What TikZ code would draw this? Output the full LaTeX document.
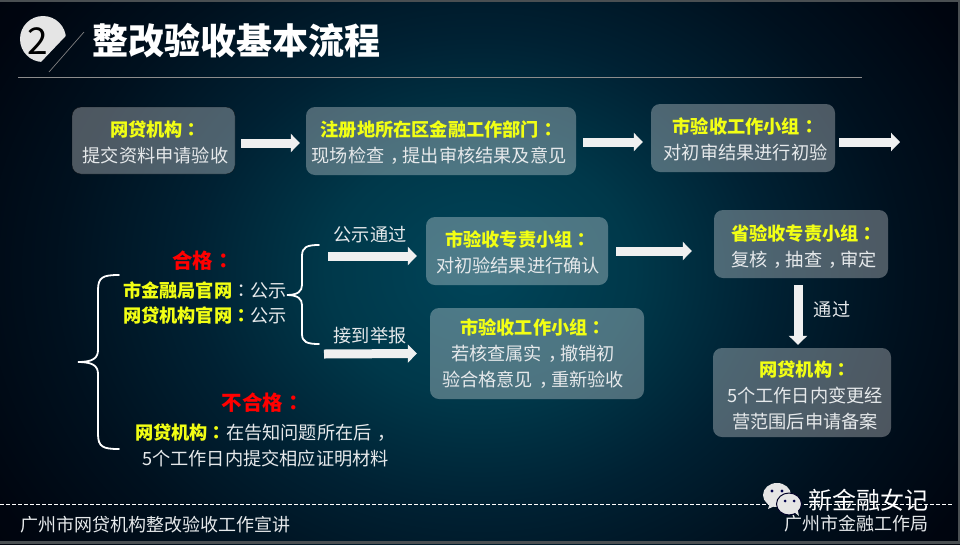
\documentclass[tikz,border=0pt]{standalone}
\usepackage{fontspec}
\usepackage{xcolor}
\setmainfont{Noto Sans CJK SC}
\newfontfamily\twfont{Noto Sans CJK TC}
\usetikzlibrary{arrows.meta}

\definecolor{bodygrey}{HTML}{E6E9EB}
\definecolor{labelyellow}{HTML}{F2FF14}
\definecolor{stripgrey}{HTML}{4A4F52}
\pgfdeclareradialshading{slidebg}{\pgfpointorigin}{rgb(0bp)=(0,.27,.35);rgb(8bp)=(0,.22,.29);rgb(15bp)=(0,.13,.20);rgb(22bp)=(0,.065,.12);rgb(29bp)=(0,.02,.06);rgb(36bp)=(0,.005,.03);rgb(50bp)=(0,.005,.03)}

\newcommand{\zhcolon}{{\twfont ：}}
\newcommand{\zhcomma}{\hspace{.33em}，\hspace{-.33em}}
\newcommand{\hl}[1]{{\bfseries\color{labelyellow}#1}}

\begin{document}
\begin{tikzpicture}[x=1pt, y=-1pt,
        flowbox/.style={
                fill=white,
                fill opacity=0.3,
                rounded corners=9pt,
                inner sep=0pt,
        },
        plain/.style={
                inner sep=0pt,
                align=center,
                text=bodygrey,
                font=\fontsize{18.2}{26}\selectfont,
        },
        foot/.style={
                inner sep=0pt,
                text=bodygrey,
                font=\fontsize{18}{22}\selectfont,
        },
        verdict/.style={
                inner sep=0pt,
                text=red,
                font=\fontsize{20.5}{24}\selectfont\bfseries,
        },
        flowarrow/.style={
                draw=white!94!black,
                line width=9pt,
                -{Triangle[length=9pt, width=18pt]},
        },
        bracket/.style={
                draw=white,
                line width=1.8pt,
                line cap=round,
        }]
            \useasboundingbox (0, 0) rectangle (960, 544);
            \begin{scope}
                \clip (0, 0) rectangle (960, 544);
                \fill[shading=slidebg] (0, -120) rectangle (960, 664);
            \end{scope}
            \fill[stripgrey] (0, 0) rectangle (960, 2);
            \fill[stripgrey] (0, 541) rectangle (960, 544);
            \fill[stripgrey] (958, 0) rectangle (960, 544);

            \begin{scope}
                \clip (10, 5) -- (80, 21) -- (40, 63) -- (10, 63) -- cycle;
                \fill[white!90!black] (43, 39) circle (23);
            \end{scope}
            \node[inner sep=0pt, text=black, font=\fontsize{37}{40}\selectfont] (badge) at (38, 41) {2};
            \draw[white!50!black, line width=0.7pt] (84, 32) -- (49, 72);
            \node[inner sep=0pt, text=white, font=\fontsize{36}{40}\selectfont\bfseries] (title) at (236, 41) {整改验收基本流程};
            \draw[white!55!black, line width=0.7pt] (18, 77) -- (862, 77);

            \node[flowbox, minimum width=163pt, minimum height=67pt, draw=black, draw opacity=0.6] (netloan) at (153.5, 140.5) {};
            \node[flowbox, minimum width=270pt, minimum height=68pt] (district) at (441, 141) {};
            \node[flowbox, minimum width=184pt, minimum height=68pt] (citywork) at (743, 138) {};
            \node[flowbox, minimum width=182pt, minimum height=68pt] (cityspecial) at (517, 251) {};
            \node[flowbox, minimum width=174pt, minimum height=68pt] (province) at (801, 244) {};
            \node[flowbox, minimum width=214pt, minimum height=91pt] (cityrecheck) at (537, 353.5) {};
            \node[flowbox, minimum width=178pt, minimum height=89pt] (filing) at (802, 392.5) {};

            \node[plain] (netloantext) at ([xshift=2pt, yshift=-2pt]netloan) {\hl{网贷机构\zhcolon}\\提交资料申请验收};
            \node[plain] (districttext) at ([xshift=-2pt, yshift=-2pt]district) {\hl{注册地所在区金融工作部门\zhcolon}\\现场检查\zhcomma 提出审核结果及意见};
            \node[plain] (cityworktext) at ([xshift=2.5pt, yshift=-1pt]citywork) {\hl{市验收工作小组\zhcolon}\\对初审结果进行初验};
            \node[plain] (cityspecialtext) at ([xshift=1pt, yshift=-1pt]cityspecial) {\hl{市验收专责小组\zhcolon}\\对初验结果进行确认};
            \node[plain] (provincetext) at ([xshift=3pt, yshift=-3pt]province) {\hl{省验收专责小组\zhcolon}\\复核\zhcomma 抽查\zhcomma 审定};
            \node[plain] (cityrechecktext) at ([xshift=-4pt]cityrecheck) {\hl{市验收工作小组\zhcolon}\\若核查属实\zhcomma 撤销初\\验合格意见\zhcomma 重新验收};
            \node[plain] (filingtext) at ([xshift=3pt, yshift=-3pt]filing) {\hl{网贷机构\zhcolon}\\5个工作日内变更经\\营范围后申请备案};

            \coordinate (nextstep) at (900, 142);
            \coordinate (passfrom) at (328, 256);
            \coordinate (reportfrom) at (324, 354);

            \draw[flowarrow] ([xshift=6pt, yshift=-2.5pt]netloan.east) -- ([xshift=-6pt, yshift=-2pt]district.west);
            \draw[flowarrow] ([xshift=7pt, yshift=-1pt]district.east) -- ([xshift=-8pt, yshift=-4pt]citywork.west);
            \draw[flowarrow] ([xshift=4pt, yshift=-4pt]citywork.east) -- (nextstep);
            \draw[flowarrow] ([xshift=8pt]cityspecial.east) -- ([xshift=-22pt, yshift=-7pt]province.west);
            \draw[flowarrow] ([xshift=-3pt, yshift=-7pt]province.south) -- ([xshift=-4pt, yshift=3pt]filing.north);
            \draw[flowarrow] (passfrom) -- ([xshift=-9pt, yshift=-5pt]cityspecial.west);
            \draw[flowarrow] (reportfrom) -- ([xshift=-13pt]cityrecheck.west);

            \node[plain] (passlabel) at (370, 235) {公示通过};
            \node[plain] (reportlabel) at (370, 336) {接到举报};
            \node[plain] (oklabel) at (832, 310) {通过};

            \draw[bracket] (119, 275) .. controls (103, 275) and (98, 277) .. (98, 290) -- (98, 350) .. controls (98, 358) and (93, 362) .. (78, 362) .. controls (93, 362) and (98, 366) .. (98, 374) -- (98, 434) .. controls (98, 447) and (103, 449) .. (119, 449);
            \draw[bracket] (319, 245) .. controls (307, 245) and (302, 247) .. (302, 256) -- (302, 285) .. controls (302, 291) and (298, 295) .. (287, 295) .. controls (298, 295) and (302, 299) .. (302, 305) -- (302, 334) .. controls (302, 342) and (307, 344) .. (319, 344);

            \node[verdict] (pass) at (203, 261) {合格\zhcolon};
            \node[plain] (cityweb) at (205, 290) {\hl{市金融局官网}\zhcolon 公示};
            \node[plain] (orgweb) at (205, 316) {\hl{网贷机构官网\zhcolon}公示};
            \node[verdict] (fail) at (262.5, 403) {不合格\zhcolon};
            \node[plain] (failnote) at (265.5, 445) {\hl{网贷机构\zhcolon}在告知问题所在后\zhcomma\\5个工作日内提交相应证明材料};

            \draw[white, dashed, dash pattern=on 4pt off 2pt, line width=0.7pt] (0, 504) -- (952, 504);
            \node[foot] (footleft) at (155, 525) {广州市网贷机构整改验收工作宣讲};
            \node[foot] (footright) at (856.5, 524) {广州市金融工作局};
            \node[inner sep=0pt, text=white, font=\fontsize{24}{28}\selectfont] (brand) at (868, 500.5) {新金融女记};

            \fill[white!90!black] (777, 495) ellipse (14 and 12);
            \fill[white!90!black] (770, 503) -- (768, 509) -- (777, 505) -- cycle;
            \fill[black!70!blue] (772, 491) circle (1.6);
            \fill[black!70!blue] (782, 491) circle (1.6);
            \filldraw[white!90!black, draw=black!85!blue, line width=1pt] (789, 504) ellipse (12.5 and 11);
            \fill[white!90!black] (794, 512) -- (799, 516) -- (797, 507) -- cycle;
            \fill[black!70!blue] (785, 501) circle (1.5);
            \fill[black!70!blue] (794, 501) circle (1.5);
        \end{tikzpicture}
\end{document}
